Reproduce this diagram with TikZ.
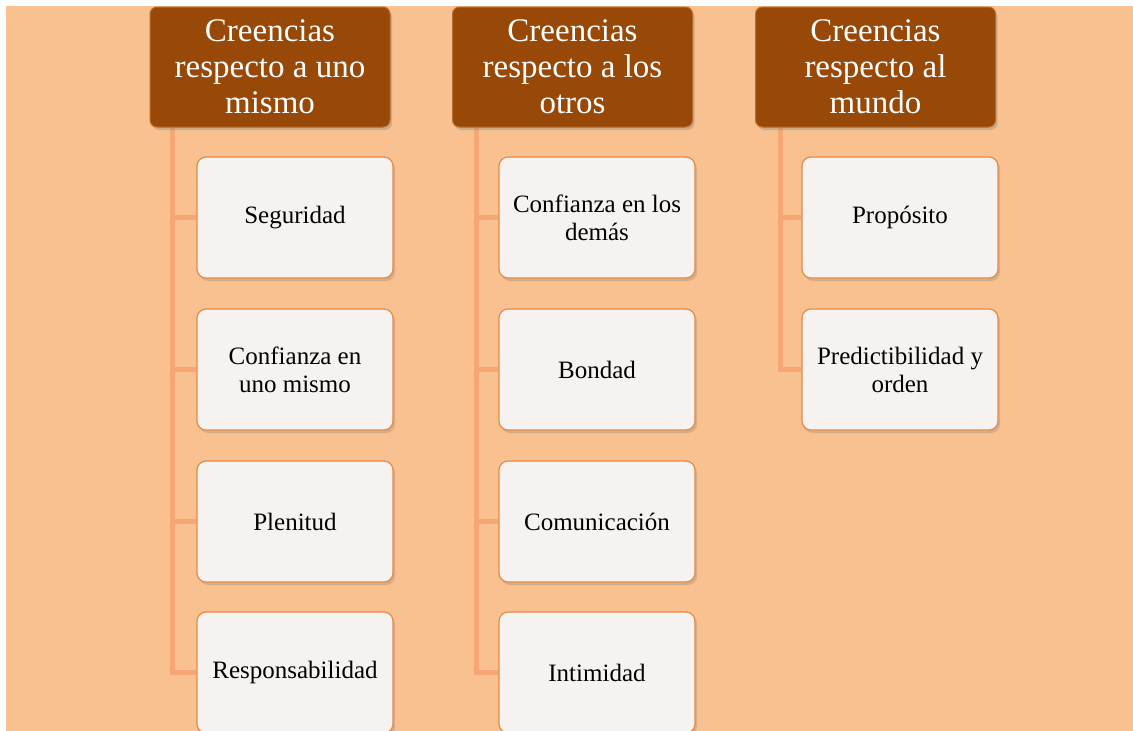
\documentclass[tikz,border=0pt]{standalone}
\usepackage{fontspec}
\setmainfont{Liberation Serif}
\usetikzlibrary{calc,shadows,backgrounds}

\definecolor{pagebg}{RGB}{249,193,143}
\definecolor{linkcol}{RGB}{245,166,114}
\definecolor{headfill}{RGB}{152,72,7}
\definecolor{headedge}{RGB}{185,105,40}
\definecolor{itemfill}{RGB}{246,242,239}
\definecolor{itemedge}{RGB}{229,139,69}

\tikzset{
  headbox/.style={draw=headedge, line width=1pt, fill=headfill, rounded corners=7pt,
    minimum width=240pt, minimum height=120pt, inner sep=0pt,
    text=white, align=center,
    font=\fontsize{33}{36}\selectfont,
    drop shadow={opacity=0.35, shadow xshift=2pt, shadow yshift=-3pt}},
  itembox/.style={draw=itemedge, line width=1.2pt, fill=itemfill, rounded corners=9pt,
    minimum width=196pt, minimum height=121pt, inner sep=0pt,
    text=black, align=center,
    font=\fontsize{25}{28}\selectfont,
    drop shadow={opacity=0.3, shadow xshift=2pt, shadow yshift=-3pt}},
  link/.style={draw=linkcol, line width=5pt}
}

\begin{document}
\begin{tikzpicture}[x=1pt, y=-1pt]
  \useasboundingbox (0,0) rectangle (1133,731);
  \clip (0,0) rectangle (1133,731);

  % column headers
  \node[headbox] (h1) at (270,67)   {Creencias\\respecto a uno\\mismo};
  \node[headbox] (h2) at (572.5,67) {Creencias\\respecto a los\\otros};
  \node[headbox] (h3) at (875.5,67) {Creencias\\respecto al\\mundo};

  % first column
  \node[itembox] (a1) at (295,217.5) {Seguridad};
  \node[itembox] (a2) at (295,369.5) {Confianza en\\uno mismo};
  \node[itembox] (a3) at (295,521.5) {Plenitud};
  \node[itembox] (a4) at (295,672.5) {Responsabilidad};

  % second column
  \node[itembox] (b1) at (597,217.5) {Confianza en los\\demás};
  \node[itembox] (b2) at (597,369.5) {Bondad};
  \node[itembox] (b3) at (597,521.5) {Comunicación};
  \node[itembox] (b4) at (597,672.5) {Intimidad};

  % third column
  \node[itembox] (c1) at (900,217.5) {Propósito};
  \node[itembox] (c2) at (900,369.5) {Predictibilidad y\\orden};

  % page and connectors behind the boxes
  \begin{pgfonlayer}{background}
    \fill[white] (0,0) rectangle (1133,731);
    \fill[pagebg] (6,6) rectangle (1133,731);
    \coordinate (r1) at ($(h1.south west)+(23,0)$);
    \coordinate (r2) at ($(h2.south west)+(24,0)$);
    \coordinate (r3) at ($(h3.south west)+(25,0)$);
    \foreach \k in {a1,a2,a3,a4} \draw[link] (r1) |- (\k.west);
    \foreach \k in {b1,b2,b3,b4} \draw[link] (r2) |- (\k.west);
    \foreach \k in {c1,c2} \draw[link] (r3) |- (\k.west);
  \end{pgfonlayer}
\end{tikzpicture}
\end{document}
